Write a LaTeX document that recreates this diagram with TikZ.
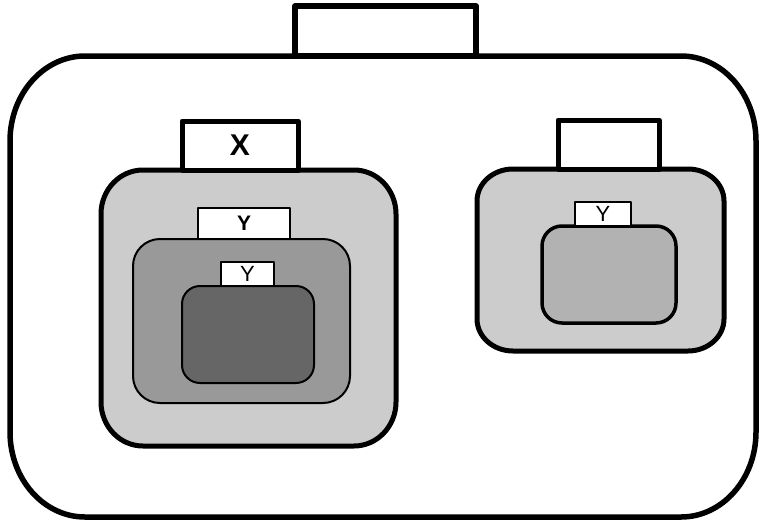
\documentclass[tikz,border=0pt]{standalone}
\usepackage{fontspec}
\setmainfont{Liberation Sans}
\begin{document}
% rectangle with elliptical corners: options, x1, y1, x2, y2, rx, ry
\newcommand\ellrect[7]{%
  \draw[#1] ({#2+#6},#3) -- ({#4-#6},#3)
    arc[start angle=-90, end angle=0, x radius=#6, y radius=#7]
    -- (#4,{#5-#7})
    arc[start angle=0, end angle=90, x radius=#6, y radius=#7]
    -- ({#2+#6},#5)
    arc[start angle=90, end angle=180, x radius=#6, y radius=#7]
    -- (#2,{#3+#7})
    arc[start angle=180, end angle=270, x radius=#6, y radius=#7]
    -- cycle;}
\begin{tikzpicture}[x=1pt,y=-1pt,line join=round,
  tab/.style={draw=black,fill=white,inner sep=0pt,anchor=center},
  bigtab/.style={tab,line width=5pt},
  smalltab/.style={tab,line width=1.5pt},
  light/.style={draw=black,fill=black!20,line width=5pt},
  mid/.style={draw=black,fill=black!40,line width=2pt},
  dark/.style={draw=black,fill=black!60,line width=2pt},
  soft/.style={draw=black,fill=black!30,line width=3.5pt}]
\useasboundingbox (0,0) rectangle (759,522);

% housing and its top tab
\ellrect{draw=black,fill=white,line width=5.5pt}{10}{56}{756}{517}{75}{85}
\node[bigtab,line width=5.5pt,minimum width=181pt,minimum height=50pt] (top) at (385.5,31) {};

% left compartment
\ellrect{light}{101}{170}{396}{446}{42}{44}
\node[bigtab,minimum width=116pt,minimum height=49pt] (x) at (240,145.5)
  {\fontsize{30}{30}\selectfont\bfseries X};
\draw[mid,rounded corners=27pt] (133,239) rectangle (350,403);
\node[smalltab,minimum width=92pt,minimum height=31pt] (ya) at (244,223.5)
  {\fontsize{21}{21}\selectfont\bfseries Y};
\draw[dark,rounded corners=18pt] (182,286) rectangle (314,383);
\node[smalltab,minimum width=53pt,minimum height=24pt] (yb) at (247.5,274)
  {\fontsize{22}{22}\selectfont Y};

% right compartment
\ellrect{light}{477}{169}{724}{351}{36}{32}
\node[bigtab,minimum width=101pt,minimum height=49pt] (r) at (608.5,144.5) {};
\draw[soft,rounded corners=20pt] (542,226) rectangle (676,323);
\node[smalltab,minimum width=56pt,minimum height=24pt] (yc) at (603,214)
  {\fontsize{22}{22}\selectfont Y};
\end{tikzpicture}
\end{document}
